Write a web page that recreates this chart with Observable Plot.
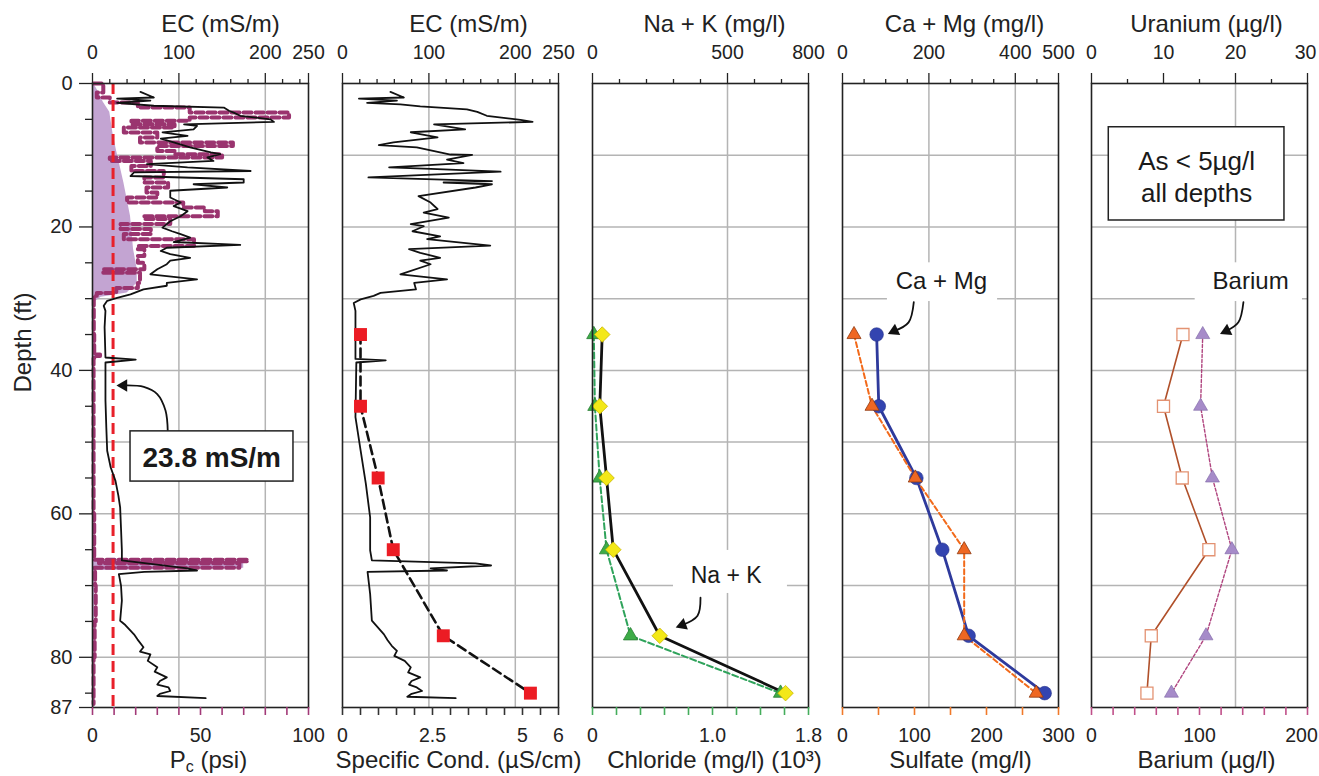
<!DOCTYPE html>
<html><head><meta charset="utf-8">
<script src="https://cdn.jsdelivr.net/npm/d3@7"></script>
<script src="https://cdn.jsdelivr.net/npm/@observablehq/plot@0.6"></script>
<style>
body{margin:0;background:#fff;}
#wrap{position:relative;width:1319px;height:776px;overflow:hidden;}
#wrap svg{position:absolute;top:0;}
</style></head><body><div id="wrap"></div>
<script>
// ---------- shared depth axis ----------
const depthTicks = [0, 20, 40, 60, 80, 87];
const depthMinorTicks = [5, 10, 15, 25, 30, 35, 45, 50, 55, 65, 70, 75, 85];
const gridDepths = [10, 20, 30, 40, 50, 60, 70, 80];

// ---------- panel 1: EC probe log (mS/m) and Pc (psi) ----------
const ecDepth1 = [1.16,1.95,2.1,2.4,2.7,3.1,3.35,3.8,4.1,4.5,5.0,5.35,5.7,5.9,6.4,6.8,7.3,7.7,8.2,8.9,9.6,9.85,10.3,10.8,11.25,11.7,12.2,12.4,12.9,13.35,13.8,14.05,14.5,14.95,15.9,16.6,17.1,17.8,18.5,19.2,19.6,20.1,20.6,21.0,21.5,22.1,22.5,22.9,23.35,23.8,24.3,24.7,25.2,25.9,26.6,27.3,27.8,28.2,28.7,29.4,29.9,30.3,31.0,31.7,34,38.2,38.5,38.9,44.2,48,51.2,53.5,55.4,57.5,59.1,62,65.1,66.5,67.6,67.9,68.1,68.4,70,72.1,74.9,75.5,76.8,77.5,78.6,79.2,79.6,80.5,81.4,82,82.8,83.3,83.8,84.2,84.7,85.1,85.4,85.7];
const ecVal1 = [55.5,71,28.5,67,28.5,71,152,158,164,171,206,210,106,121,117,81,110,79,94,113,137,148,133,140,63,110,183,48,44,175,175,117,156,90,90,102,94,110,102,90,86,81,92,102,113,94,171,86,79,90,113,90,86,75,67,121,86,86,59,44,28.5,17,13,15,14,15,50,15,15,16,17,21,26.6,30,32,33,34,34,110,121,60,30.5,33,34,32,38,48,52,59,55,67,64,75,72,86,78,75,88,90,78,75,131];
const pcDepth = [0,1.26,1.95,2.65,3.35,4.05,4.74,5.2,5.67,6.14,6.84,7.53,8.23,8.7,9.4,9.86,10.33,10.8,11.5,12.2,13.1,13.8,14.5,15.2,15.9,16.6,17.3,17.8,18.5,18.9,19.6,20.3,21.0,21.7,22.65,23.1,24.05,25.0,25.9,26.4,26.8,27.8,28.5,29.2,29.6,30.3,35,37.8,38.0,38.3,50,60,66.4,66.6,66.9,67.5,67.8,70,75,80,85,86.5];
const pcVal = [0.5,5,2,8,21,45,91,45,18,38,14.5,30,22,65,30,38,60,8,27,18,33,24,35,25,30,16,42,52,58,24,36,13,27,14.5,47,21,24,21,24,5,22,22,21,11,2,0.6,0.6,0.8,3.5,0.8,0.5,0.5,0.8,72,3,68,1,1.2,1.5,1,0.5,0.5];
const pcFillDepth = [0,1.3,2.6,4,7,9.2,13.8,18.5,23.1,25.9,27.8,29.2,29.8,30.5,37.8,38.1,38.4,66.4,66.6,67.6,67.9,87];
const pcFillVal = [0.5,3,5,8,9.5,11,14.5,17.6,19,20.7,20.7,16,4,0.8,0.8,3,0.8,0.8,70,70,1,0.8];
const ecThreshold = 23.8;

// ---------- panel 2: EC log (mS/m) and specific conductance (uS/cm) ----------
const ecDepth2 = [1.16,1.95,2.1,2.4,2.7,2.9,3.2,3.6,3.95,4.5,5.07,5.35,5.7,6.4,6.8,7.5,8.2,8.6,8.9,9.9,9.95,10.6,11.1,11.7,11.9,12.3,13.1,13.6,13.8,14.05,14.5,15.7,16.6,17.5,18.0,18.7,19.6,19.9,20.6,21.3,21.7,22.6,23.1,23.6,24.3,24.7,25.2,26.6,27.3,27.8,28.7,29.2,29.6,30.1,30.6,31.7,34.9,38.4,38.6,38.9,46.5,51.2,55.8,60.5,65.1,66.5,66.9,67.2,67.6,67.9,68.1,71.2,74.9,76.8,77.6,78.4,79.1,79.8,80.5,81.4,82.1,82.8,83.3,83.8,84.2,84.7,85.1,85.5,85.7];
const ecVal2 = [55.5,71,19,63,28.5,67,90,144,156,167,206,220,106,142,79,110,59,42,86,125,150,121,140,54,102,183,30,173,117,173,154,88,102,110,94,123,79,94,81,113,98,171,77,90,113,90,102,67,121,83,85,44,36,21,13,15,15,15,50,16,15,21,27,32,32,34,154,172,102,121,29,32,34,48,52,57,63,60,72,79,76,90,80,77,86,92,80,75,131];

// ---------- water samples ----------
const sampleDepths = [35, 45, 55, 65, 77, 85];
const specCond = [0.5, 0.5, 0.99, 1.41, 2.8, 5.22];      // uS/cm
const naK = [36, 27, 52, 77, 249, 715];                   // mg/l
const chloride = [0.011, 0.02, 0.06, 0.117, 0.317, 1.567]; // mg/l x10^3
const caMg = [79, 84, 171, 231, 292, 468];                // mg/l
const sulfate = [16, 41, 101, 169, 169, 269];             // mg/l
const uranium = [12.7, 10.0, 12.6, 16.3, 8.3, 7.7];       // ug/l
const barium = [103, 101, 112, 130, 106, 74];             // ug/l

// ---------- axis ticks and tick labels ----------
const ecTopTicks = [0,20,40,60,80,100,120,140,160,180,200,220,240,250];
const ecTopLabels = ["0", "100", "200", "250"];
const pcTicks = [0,10,20,30,40,50,60,70,80,90,100];
const pcLabels = ["0", "50", "100"];
const scTicks = [0,0.5,1,1.5,2,2.5,3,3.5,4,4.5,5,5.5,6];
const scLabels = ["0", "2.5", "5", "6"];
const nakTopTicks = [0,100,200,300,400,500,600,700,800];
const nakTopLabels = ["0", "500", "800"];
const clTicks = [0,0.2,0.4,0.6,0.8,1.0,1.2,1.4,1.6,1.8];
const clLabels = ["0", "1.0", "1.8"];
const camgTopTicks = [0,50,100,150,200,250,300,350,400,450,500];
const camgTopLabels = ["0", "200", "400", "500"];
const so4Ticks = [0,50,100,150,200,250,300];
const so4Labels = ["0", "100", "200", "300"];
const uTopTicks = [0,5,10,15,20,25,30];
const uTopLabels = ["0", "10", "20", "30"];
const baTicks = [0,20,40,60,80,100,120,140,160,180,200];
const baLabels = ["0", "100", "200"];

// ---------- annotations (data units of each panel) ----------
const thresholdNote = {x1: 44, x2: 232.6, y1: 48.5, y2: 55.5, x: 138, y: 52, text: "23.8 mS/m"};
const thresholdArrow = [[87.1,48.5],[84.5,45.6],[74.9,43.3],[59.4,42.3],[36,42.1]];
const nakNote = {x1: 300, x2: 722, y1: 65.1, y2: 71.1, x: 495, y: 68.4, text: "Na + K"};
const nakArrow = [[400,71.7],[389,74.2],[333,75.5]];
const camgNote = {x1: 104, x2: 359, y1: 25, y2: 30.4, x: 229, y: 27.4, text: "Ca + Mg"};
const camgArrow = [[165,30.5],[153,33.3],[120,34.5]];
const baNote = {x1: 14.4, x2: 29.3, y1: 25, y2: 30.4, x: 22.1, y: 27.4, text: "Barium"};
const baArrow = [[21.1,30.5],[20.4,33.3],[18.75,34.5]];
const asNote = {x1: 2.4, x2: 26.8, y1: 6.1, y2: 19.1, x: 14.6, y: 12.9, text: "As < 5µg/l\nall depths"};

// ---------- helpers ----------
const FONT = "'Liberation Sans', Arial, Helvetica, sans-serif";
const FW = 216, MT = 83, MB = 69, H = 776;
const GRID = "#b4b4b4";
const INK = "#222";
const pairs = (ds, vs, k = 1) => ds.map((d, i) => ({d, v: vs[i] * k}));

function noteMarks(note, opts = {}) {
  return [
    Plot.rect([note], {x1: "x1", x2: "x2", y1: "y1", y2: "y2", fill: "white", stroke: opts.box ? INK : "none", strokeWidth: 1.5}),
    Plot.text([note], {x: "x", y: "y", text: "text", fontSize: opts.fontSize || 24, fontWeight: opts.bold ? "bold" : "normal", fill: "#1a1a1a", lineHeight: 1.23})
  ];
}
function arrowMarks(pts, rot) {
  const data = pts.map(([x, y]) => ({x, y}));
  return [
    Plot.line(data, {x: "x", y: "y", curve: "catmull-rom", stroke: "#111", strokeWidth: 1.8}),
    Plot.dot([data[data.length - 1]], {x: "x", y: "y", symbol: "triangle", r: 4.6, fill: "#111", stroke: "none", rotate: rot})
  ];
}
// tick label marks: labels are strings whose numeric value (times k) is the position
function labelMarks(labels, k, anchor, dy, dxs) {
  return labels.map((t, i) => Plot.text([t], {
    x: d => Number(d) * k, text: d => d, frameAnchor: anchor, lineAnchor: "middle",
    dy, dx: dxs ? dxs[i] : 0, fontSize: 19.5, fill: INK
  }));
}

function makePanel(cfg) {
  const {left, mL, mR, xMax, topTicks, topLabels, gridX, botK, botTicks, botLabels, botColor, topTitle, botTitle, topDx, botDx, marks} = cfg;
  const majorTop = topLabels.map(Number);
  const chart = Plot.plot({
    width: mL + FW + mR, height: H,
    marginLeft: mL, marginRight: mR, marginTop: MT, marginBottom: MB,
    x: {domain: [0, xMax], axis: null},
    y: {domain: [0, 87], reverse: true, axis: null},
    style: {background: "transparent", overflow: "visible", fontFamily: FONT, fontSize: "19px", color: INK},
    marks: [
      Plot.gridY(gridDepths, {stroke: GRID, strokeOpacity: 1, strokeWidth: 1.5}),
      Plot.gridX(gridX, {stroke: GRID, strokeOpacity: 1, strokeWidth: 1.5}),
      ...marks,
      Plot.frame({stroke: INK, strokeWidth: 1.6}),
      Plot.axisX({anchor: "top", ticks: topTicks.filter(v => !majorTop.includes(v)), tickSize: 5, tickFormat: () => "", label: null, strokeWidth: 1.3}),
      Plot.axisX({anchor: "top", ticks: majorTop, tickSize: 11, tickFormat: () => "", label: null, strokeWidth: 1.3}),
      ...labelMarks(topLabels, 1, "top", -31, cfg.topLabelDx),
      Plot.axisX({anchor: "bottom", ticks: botTicks.map(v => v * botK), tickSize: 8, stroke: botColor, strokeWidth: 1.6, tickFormat: () => "", label: null}),
      ...labelMarks(botLabels, botK, "bottom", 28.5, cfg.botLabelDx),
      Plot.text([topTitle], {text: d => d, frameAnchor: "top", lineAnchor: "middle", dy: -59, dx: topDx, fontSize: 24, fill: INK}),
      Plot.text([botTitle], {text: d => d, frameAnchor: "bottom", lineAnchor: "middle", dy: 53, dx: botDx, fontSize: 24, fill: INK}),
      ...(cfg.extra || [])
    ]
  });
  chart.style.left = (left - mL) + "px";
  document.getElementById("wrap").appendChild(chart);
  return chart;
}

// ---------- panel 1 ----------
const k1 = 250 / 100;
const p1 = makePanel({
  left: 92, mL: 92, mR: 18, xMax: 250,
  topTicks: ecTopTicks, topLabels: ecTopLabels, gridX: [100, 200],
  botK: k1, botTicks: pcTicks, botLabels: pcLabels, botColor: "#a23a78",
  topTitle: "EC (mS/m)", botTitle: "Pc (psi)", topDx: 20, botDx: 8,
  marks: [
    Plot.areaX(pairs(pcFillDepth, pcFillVal, k1), {x: "v", y: "d", fill: "#c3a4d2", curve: "linear"}),
    Plot.line(pairs(pcDepth, pcVal, k1), {x: "v", y: "d", stroke: "#9a346f", strokeWidth: 4, strokeDasharray: "8,4", curve: "step-after"}),
    Plot.ruleX([ecThreshold], {stroke: "#e8202a", strokeWidth: 3, strokeDasharray: "11,6"}),
    Plot.line(pairs(ecDepth1, ecVal1), {x: "v", y: "d", stroke: "#111", strokeWidth: 1.8})
  ],
  extra: [
    ...arrowMarks(thresholdArrow, 270),
    ...noteMarks(thresholdNote, {box: true, bold: true, fontSize: 28}),
    Plot.axisY({anchor: "left", ticks: depthMinorTicks, tickSize: 7, tickFormat: () => "", label: null, strokeWidth: 1.3}),
    Plot.axisY({anchor: "left", ticks: depthTicks, tickSize: 13, tickPadding: 7, tickFormat: d => String(d), fontSize: 20, label: null, strokeWidth: 1.3}),
    Plot.text(["Depth (ft)"], {text: d => d, frameAnchor: "left", rotate: -90, dx: -69, dy: -3, fontSize: 24, fill: INK})
  ]
});
// subscript c in "Pc (psi)"
p1.querySelectorAll("text").forEach(t => {
  if (t.textContent === "Pc (psi)") {
    const ns = "http://www.w3.org/2000/svg";
    t.textContent = "";
    const a = document.createElementNS(ns, "tspan"); a.textContent = "P";
    const b = document.createElementNS(ns, "tspan"); b.textContent = "c"; b.setAttribute("dy", "4"); b.setAttribute("font-size", "16");
    const c = document.createElementNS(ns, "tspan"); c.textContent = " (psi)"; c.setAttribute("dy", "-4");
    t.append(a, b, c);
  }
});

// ---------- panel 2 ----------
const k2 = 250 / 6;
const samples2 = sampleDepths.map((d, i) => ({d, v: specCond[i] * k2}));
makePanel({
  left: 342, mL: 16, mR: 17, xMax: 250,
  topTicks: ecTopTicks, topLabels: ecTopLabels, gridX: [100, 200],
  botK: k2, botTicks: scTicks, botLabels: scLabels, botColor: "#333",
  topTitle: "EC (mS/m)", botTitle: "Specific Cond. (µS/cm)", topDx: 18, botDx: 8,
  marks: [
    Plot.line(pairs(ecDepth2, ecVal2), {x: "v", y: "d", stroke: "#111", strokeWidth: 1.8}),
    Plot.line(samples2, {x: "v", y: "d", stroke: "#111", strokeWidth: 2.6, strokeDasharray: "9,5"}),
    Plot.dot(samples2, {x: "v", y: "d", symbol: "square", r: 7.3, fill: "#ec1c24", stroke: "none"})
  ]
});

// ---------- panel 3 ----------
const k3 = 800 / 1.8;
const cl3 = sampleDepths.map((d, i) => ({d, v: chloride[i] * k3}));
const nak3 = sampleDepths.map((d, i) => ({d, v: naK[i]}));
makePanel({
  left: 592, mL: 17, mR: 17, xMax: 800,
  topTicks: nakTopTicks, topLabels: nakTopLabels, gridX: [500],
  botK: k3, botTicks: clTicks, botLabels: clLabels, botColor: "#45ad5c",
  topTitle: "Na + K (mg/l)", botTitle: "Chloride (mg/l) (10³)", topDx: 14, botDx: 14,
  marks: [
    Plot.line(cl3, {x: "v", y: "d", stroke: "#2fa35b", strokeWidth: 2, strokeDasharray: "6,3"}),
    Plot.line(nak3, {x: "v", y: "d", stroke: "#111", strokeWidth: 2.8}),
    Plot.dot(cl3, {x: "v", y: "d", symbol: "triangle", r: 5.3, fill: "#3dac47", stroke: "#2a7d35", strokeWidth: 0.8}),
    Plot.dot(nak3, {x: "v", y: "d", symbol: "diamond2", r: 7, fill: "#f3e818", stroke: "#c9b500", strokeWidth: 0.8})
  ],
  extra: [...noteMarks(nakNote, {fontSize: 23}), ...arrowMarks(nakArrow, 250)]
});

// ---------- panel 4 ----------
const k4 = 500 / 300;
const so4 = sampleDepths.map((d, i) => ({d, v: sulfate[i] * k4}));
const cm4 = sampleDepths.map((d, i) => ({d, v: caMg[i]}));
makePanel({
  left: 842, mL: 17, mR: 16, xMax: 500,
  topTicks: camgTopTicks, topLabels: camgTopLabels, gridX: [200, 400],
  botK: k4, botTicks: so4Ticks, botLabels: so4Labels, botColor: "#f07a2a",
  topTitle: "Ca + Mg (mg/l)", botTitle: "Sulfate (mg/l)", topDx: 14, botDx: 10,
  marks: [
    Plot.line(cm4, {x: "v", y: "d", stroke: "#2e3a9c", strokeWidth: 2.8}),
    Plot.line(so4, {x: "v", y: "d", stroke: "#f26a1b", strokeWidth: 2, strokeDasharray: "5,3"}),
    Plot.dot(cm4, {x: "v", y: "d", symbol: "circle", r: 6.8, fill: "#3344b0", stroke: "#26328a", strokeWidth: 0.6}),
    Plot.dot(so4, {x: "v", y: "d", symbol: "triangle", r: 5.2, fill: "#ef6722", stroke: "#8f3a10", strokeWidth: 0.8})
  ],
  extra: [...noteMarks(camgNote, {fontSize: 24}), ...arrowMarks(camgArrow, 245)]
});

// ---------- panel 5 ----------
const k5 = 30 / 200;
const ba5 = sampleDepths.map((d, i) => ({d, v: barium[i] * k5}));
const u5 = sampleDepths.map((d, i) => ({d, v: uranium[i]}));
makePanel({
  left: 1091, mL: 17, mR: 12, xMax: 30,
  topTicks: uTopTicks, topLabels: uTopLabels, gridX: [20],
  botK: k5, botTicks: baTicks, botLabels: baLabels, botColor: "#c0508a",
  topTitle: "Uranium (µg/l)", botTitle: "Barium (µg/l)", topDx: 7, botDx: 7,
  topLabelDx: [0, 0, 0, -2], botLabelDx: [0, 0, -6],
  marks: [
    Plot.line(u5, {x: "v", y: "d", stroke: "#b0502a", strokeWidth: 1.6}),
    Plot.line(ba5, {x: "v", y: "d", stroke: "#b0457f", strokeWidth: 1.4, strokeDasharray: "3,2"}),
    Plot.dot(u5, {x: "v", y: "d", symbol: "square", r: 6.8, fill: "white", stroke: "#e39272", strokeWidth: 1.3}),
    Plot.dot(ba5, {x: "v", y: "d", symbol: "triangle", r: 5.2, fill: "#a68bc9", stroke: "#7c64a4", strokeWidth: 0.6})
  ],
  extra: [...noteMarks(asNote, {box: true, fontSize: 26}), ...noteMarks(baNote, {fontSize: 24}), ...arrowMarks(baArrow, 245)]
});
</script></body></html>
